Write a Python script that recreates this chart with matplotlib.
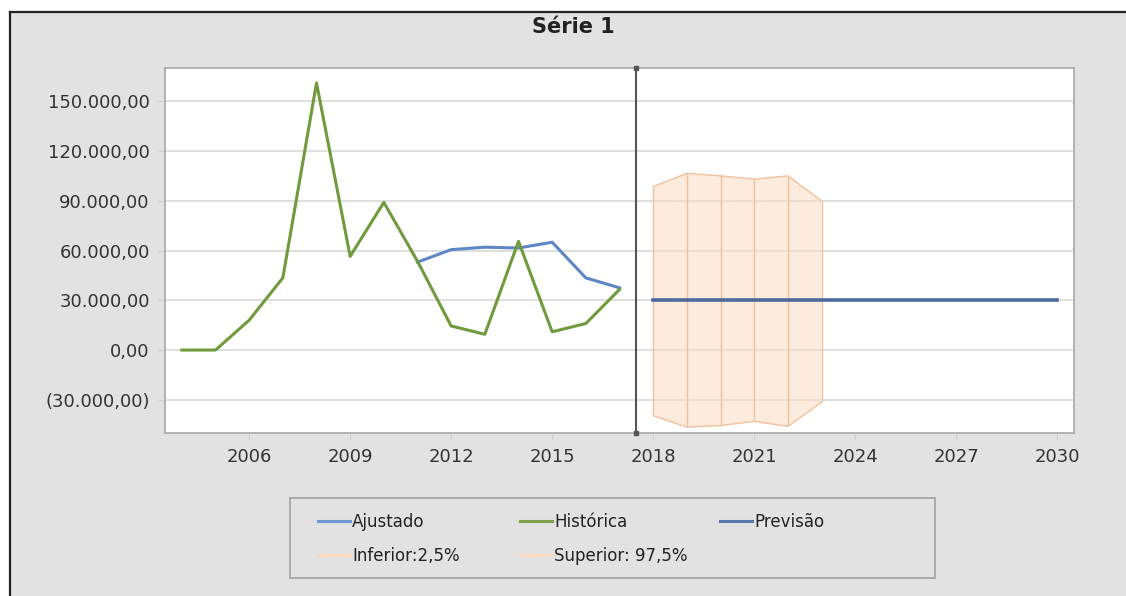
import numpy as np
import matplotlib.pyplot as plt
from matplotlib.lines import Line2D
from matplotlib.patches import Rectangle
from matplotlib.ticker import FuncFormatter

# Série histórica (anual)
anos_hist = [2004, 2005, 2006, 2007, 2008, 2009, 2010, 2011, 2012, 2013, 2014, 2015, 2016, 2017]
historica = [0, 0, 18000, 43500, 161000, 56500, 89000, 53500, 14500, 9500, 65500, 11000, 16000, 36500]

# Valores ajustados pelo modelo
anos_ajust = [2011, 2012, 2013, 2014, 2015, 2016, 2017]
ajustado = [53000, 60500, 62000, 61500, 65000, 43500, 37500]

# Previsão e intervalo de confiança
anos_prev = list(range(2018, 2031))
previsao = [30000] * len(anos_prev)
anos_int = [2018, 2019, 2020, 2021, 2022, 2023]
inferior = [-39500, -46500, -45500, -43000, -46000, -31500]
superior = [98500, 106500, 105000, 103000, 105000, 90000]

corte = 2017.5
xticks = [2006, 2009, 2012, 2015, 2018, 2021, 2024, 2027, 2030]
yticks = [-30000, 0, 30000, 60000, 90000, 120000, 150000]

cinza = '#e2e2e2'
verde = '#6f9b3d'
azul_aj = '#5d86c6'
azul_prev = '#4b6b9c'
laranja = '#f2c09a'
laranja_fill = '#fcdcc2'

plt.rcParams['font.family'] = ['DejaVu Sans']

fig = plt.figure(figsize=(11.26, 5.96), dpi=100)
fig.patch.set_facecolor('white')

# fundo cinza com borda escura à esquerda e em cima
x0 = 10 / 1126
y1 = 1 - 12 / 596
fig.add_artist(Rectangle((x0, 0), 1 - x0, y1, transform=fig.transFigure,
                         facecolor=cinza, edgecolor='none', zorder=-10))
fig.add_artist(Line2D([x0, x0], [0, y1], transform=fig.transFigure, color='#222222', lw=1.6))
fig.add_artist(Line2D([x0, 1], [y1, y1], transform=fig.transFigure, color='#222222', lw=1.6))

ax = fig.add_axes([165 / 1126, 1 - 433 / 596, 909 / 1126, 365 / 596])
ax.set_facecolor('white')

ax.set_xlim(2003.5, 2030.5)
ax.set_ylim(-50000, 170000)
ax.set_xticks(xticks)
ax.set_yticks(yticks)


def fmt_valor(v, pos):
    s = f"{abs(v):,.2f}".replace(',', 'X').replace('.', ',').replace('X', '.')
    return f"({s})" if v < 0 else s


ax.yaxis.set_major_formatter(FuncFormatter(fmt_valor))
ax.grid(axis='y', color='#d9d9d9', lw=1.2)
ax.set_axisbelow(True)
for sp in ax.spines.values():
    sp.set_color('#a8a8a8')
    sp.set_linewidth(1.2)
ax.tick_params(axis='both', colors='#d0d0d0', labelcolor='#333333', labelsize=13, length=5)
ax.tick_params(axis='x', pad=6)
ax.tick_params(axis='y', pad=6)

# intervalo de confiança
ax.fill_between(anos_int, inferior, superior, facecolor=laranja_fill, alpha=0.55,
                edgecolor='none', zorder=1)
ax.plot(anos_int, superior, color=laranja, lw=1.0, zorder=2)
ax.plot(anos_int, inferior, color=laranja, lw=1.0, zorder=2)
ax.vlines(anos_int, inferior, superior, color=laranja, lw=1.0, zorder=2)

# séries
ax.plot(anos_hist, historica, color=verde, lw=2.2, zorder=4)
ax.plot(anos_ajust, ajustado, color=azul_aj, lw=2.2, zorder=3)
ax.plot(anos_prev, previsao, color=azul_prev, lw=2.6, zorder=4)

# separação entre histórico e previsão
ax.axvline(corte, color='#555555', lw=1.5, zorder=5)
ax.plot([corte, corte], [170000, -50000], 's', color='#555555', ms=3, zorder=6, clip_on=False)

fig.text(573 / 1126, 1 - 27 / 596, 'Série 1', ha='center', va='center',
         fontsize=15, fontweight='bold', color='#222222')

# moldura da legenda
fig.add_artist(Rectangle((290 / 1126, 1 - 578 / 596), 645 / 1126, 80 / 596,
                         transform=fig.transFigure, facecolor=cinza,
                         edgecolor='#a0a0a0', lw=1.2, zorder=1))

# legenda em três colunas, cada uma posicionada separadamente
colunas = [
    (318, [('#7097d0', 'Ajustado'), ('#f8d9bf', 'Inferior:2,5%')]),
    (520, [('#7ea24c', 'Histórica'), ('#f8d9bf', 'Superior: 97,5%')]),
    (720, [('#5578ad', 'Previsão')]),
]
for xc, itens in colunas:
    hs = [Line2D([], [], color=c, lw=2.2) for c, _ in itens]
    ls = [t for _, t in itens]
    leg = fig.legend(hs, ls, loc='upper left', bbox_to_anchor=(xc / 1126, 1 - 513 / 596),
                     frameon=False, fontsize=12, handlelength=1.9, handletextpad=0.15,
                     labelspacing=0.95, borderpad=0, borderaxespad=0)
    for t in leg.get_texts():
        t.set_color('#222222')

fig.savefig('out.png', dpi=100)
